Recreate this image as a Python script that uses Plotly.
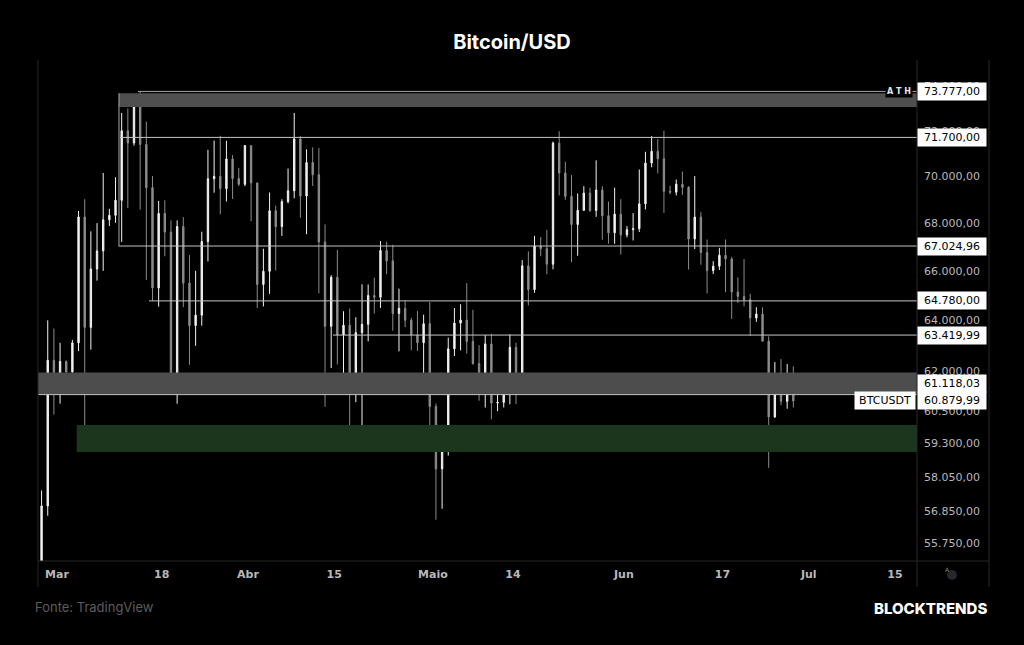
import math
import pandas as pd
import plotly.graph_objects as go

# ---------------- data (daily BTC/USDT) ----------------
first_day = "2024-02-27"
open_ = [54476, 57037, 62432,
         61130, 62387, 61987, 63113, 68245, 63724, 66075, 66823, 68124, 68313,
         68955, 72000, 71452, 73072, 71388, 69499, 65300, 68393, 67609, 61937,
         67840, 65501, 63797, 64209, 67211, 69880, 69988, 69455, 70744, 69892, 69645,
         71333, 69702, 65446, 65980, 68508, 67838, 68897, 69362, 71631, 69139,
         70587, 70060, 67195, 63765, 65739, 63426, 63811, 61276, 63512, 63843,
         64994, 64927, 66838, 66408, 64276, 64482, 64011, 63419, 63118, 63866,
         60672, 58364, 59060, 62882, 63892, 64012, 63165, 62313, 61193, 63074,
         60799, 60825, 61483, 62940, 61577, 66206, 65235, 67024, 66915, 66274,
         71446, 70136, 69122, 67929, 68526, 69265, 68518, 69394, 68296, 67578, 68364,
         67491, 67706, 67751, 68804, 70567, 71082, 70757, 69342, 69305, 69647,
         69512, 67321, 68241, 66756, 66011, 66191, 66639, 66490, 65140, 64960,
         64828, 64096, 64252, 63180, 60277, 61806, 60864, 61707]
high = [57588, 64000, 63676,
        63114, 62433, 63231, 68499, 69000, 67637, 67985, 70136, 68592, 69950,
        72800, 73000, 73650, 73777, 72400, 70000, 68930, 68956, 68100, 68100,
        68240, 66650, 65999, 67622, 71150, 71561, 71769, 71552, 70916, 70357, 71366,
        71338, 69708, 66914, 69291, 68725, 69000, 70327, 72797, 71758, 71172,
        71256, 71227, 67931, 65823, 66867, 64365, 64476, 64125, 65450, 65442,
        65723, 67233, 67199, 67075, 65275, 64797, 64100, 64370, 64228, 64734,
        60780, 59602, 63320, 64494, 64646, 65500, 64422, 63020, 63420, 63469,
        61490, 61818, 63450, 63118, 66444, 66800, 67451, 67400, 67700, 71515,
        71979, 70625, 70041, 69250, 69562, 69500, 70687, 69562, 68900, 69500, 69000,
        67860, 68409, 70288, 71063, 71758, 71625, 71997, 69582, 69850, 70195,
        69560, 69999, 68449, 67294, 66400, 66948, 67298, 66578, 65730, 66482,
        65066, 64525, 64521, 63369, 62370, 62480, 62293, 62200]
low = [54450, 56691, 60364,
       60777, 61561, 61321, 62787, 59005, 62848, 65600, 66000, 67863, 68000,
       67194, 68620, 71333, 68555, 65630, 64780, 64550, 66600, 61555, 60775,
       64529, 62260, 63000, 63790, 66385, 69280, 68359, 68903, 69009, 69568, 69562,
       68062, 64493, 64559, 65064, 66011, 67447, 68824, 69040, 68210, 67518,
       69571, 65086, 60660, 62134, 62274, 61600, 59768, 60833, 59600, 63172,
       64277, 64500, 65864, 63589, 62783, 63735, 62824, 62793, 61765, 59191,
       56552, 56937, 58849, 62599, 62822, 62700, 62261, 60888, 60630, 60187,
       60492, 60632, 60750, 60761, 61330, 64600, 65106, 66600, 65857, 66060,
       69162, 68977, 66356, 66622, 68515, 68456, 68250, 67280, 67125, 67118, 66670,
       67387, 67257, 67612, 68564, 70383, 70119, 68420, 69208, 69160, 69180,
       66051, 66900, 66251, 65078, 65870, 66034, 65130, 64060, 64693, 64559,
       63379, 63943, 63178, 58402, 60240, 60720, 60585, 60630]
close = [57037, 62432, 61130,
         62387, 61987, 63113, 68245, 63724, 66075, 66823, 68124, 68313, 68955,
         72000, 71452, 73072, 71388, 69499, 65300, 68393, 67609, 61937, 67840,
         65501, 63797, 64209, 67211, 69880, 69988, 69455, 70744, 69892, 69645, 71333,
         69702, 65446, 65980, 68508, 67838, 68897, 69362, 71631, 69139, 70587,
         70060, 67195, 63765, 65739, 63426, 63811, 61276, 63512, 63843, 64994,
         64927, 66838, 66408, 64276, 64482, 64011, 63419, 63118, 63866, 60672,
         58364, 59060, 62882, 63892, 64012, 63165, 62313, 61193, 63074, 60799,
         60825, 61483, 62940, 61577, 66206, 65235, 67024, 66915, 66274, 71446,
         70136, 69122, 67929, 68526, 69265, 68518, 69394, 68296, 67578, 68364, 67491,
         67706, 67751, 68804, 70567, 71082, 70757, 69342, 69305, 69647, 69512,
         67321, 68241, 66756, 66011, 66191, 66639, 66490, 65140, 64960, 64828,
         64096, 64252, 63180, 60277, 61806, 60864, 61707, 60880]

# price levels drawn on the chart
ath_level = 73777.00
level_lines = [71700.00, 67024.96, 64780.00, 63419.99]
level_starts = ["2024-03-11 05:20", "2024-03-11 00:20", "2024-03-15 22:20", "2024-04-14 19:00"]
ath_start = "2024-03-14 03:30"
top_zone = (73070, 73690)
top_zone_start = "2024-03-11 01:30"
grey_zone = (61118.03, 61960)
green_zone = (58980, 59980)
green_zone_start = "2024-03-04 04:50"
last_price = 60879.99

# axis ticks
y_ticks = [55750, 56850, 58050, 59300, 60500, 62000, 64000, 66000, 68000, 70000, 72000, 74000]
y_ticktext = ["55.750,00", "56.850,00", "58.050,00", "59.300,00", "60.500,00", "62.000,00",
              "64.000,00", "66.000,00", "68.000,00", "70.000,00", "72.000,00", "74.000,00"]
x_ticks = ["2024-03-01", "2024-03-18", "2024-04-01", "2024-04-15", "2024-05-01",
           "2024-05-14", "2024-06-01", "2024-06-17", "2024-07-01", "2024-07-15"]
x_ticktext = ["Mar", "18", "Abr", "15", "Maio", "14", "Jun", "17", "Jul", "15"]

def fmt_br(v):
    s = f"{v:,.2f}"
    return s.replace(",", "X").replace(".", ",").replace("X", ".")

# ---------------- figure ----------------
dates = pd.date_range(first_day, periods=len(close), freq="D") + pd.Timedelta(hours=12)
x_far_left = "2024-02-20"
x_far_right = "2024-07-30"

W, H = 1024, 645
ML, MR, MT, MB = 38, 107, 60, 84
PW, PH = W - ML - MR, H - MT - MB

def px_x(px):
    return (px - ML) / PW

def px_y(py):
    return (H - MB - py) / PH

fig = go.Figure()

def add_zone(x0, lo, hi, color):
    fig.add_trace(go.Scatter(x=[x0, x_far_right, x_far_right, x0, x0],
                             y=[lo, lo, hi, hi, lo], mode="lines", fill="toself",
                             fillcolor=color, line=dict(width=0), hoverinfo="skip",
                             showlegend=False))

def add_line(xs, ys, color="#c4c4c4"):
    fig.add_trace(go.Scatter(x=xs, y=ys, mode="lines", line=dict(color=color, width=1),
                             hoverinfo="skip", showlegend=False))

add_zone(top_zone_start, top_zone[0], top_zone[1], "#4f4f4f")
add_zone(x_far_left, grey_zone[0], grey_zone[1], "#4d4d4d")
add_zone(green_zone_start, green_zone[0], green_zone[1], "#1b361d")

add_line([ath_start, x_far_right], [ath_level, ath_level], "#a8a8a8")
for v, s in zip(level_lines, level_starts):
    add_line([s, x_far_right], [v, v])
add_line([x_far_left, x_far_right], [grey_zone[0], grey_zone[0]])
add_line([top_zone_start, top_zone_start], [level_lines[1], top_zone[1]], "#a8a8a8")

fig.add_trace(go.Candlestick(
    x=dates, open=open_, high=high, low=low, close=close,
    increasing=dict(line=dict(color="#f2f2f2", width=1), fillcolor="#f2f2f2"),
    decreasing=dict(line=dict(color="#8c8c8c", width=1), fillcolor="#8c8c8c"),
    whiskerwidth=0, hoverinfo="skip", showlegend=False))

axis_font = dict(family="DejaVu Sans", size=11, color="#b8b8b8")

fig.update_layout(
    width=W, height=H,
    margin=dict(l=ML, r=MR, t=MT, b=MB, pad=0),
    paper_bgcolor="#000000", plot_bgcolor="#000000",
    boxgap=0.68,
    showlegend=False,
    title=dict(text="<b>Bitcoin/USD</b>", x=0.5, xref="container", xanchor="center",
               y=1 - 42 / H, yref="container", yanchor="middle",
               font=dict(family="Inter", size=20, color="#ffffff")),
    xaxis=dict(type="date", range=["2024-02-26 22:05", "2024-07-18 13:40"],
               rangeslider=dict(visible=False), showgrid=False, zeroline=False,
               tickmode="array", tickvals=x_ticks, ticktext=x_ticktext,
               ticks="", ticklabelstandoff=5,
               tickfont=dict(family="DejaVu Sans", size=11, color="#b8b8b8", weight="bold"),
               showline=False),
    yaxis=dict(type="log", side="right",
               range=[math.log10(55120), math.log10(75230)],
               showgrid=False, zeroline=False, tickmode="array",
               tickvals=y_ticks, ticktext=y_ticktext, ticks="",
               ticklabelstandoff=6, tickfont=axis_font, showline=False),
)

# frame lines
frame = "#262626"
ybot = px_y(587)
shapes = [
    dict(type="line", xref="paper", yref="paper", x0=0, x1=px_x(989), y0=0, y1=0),
    dict(type="line", xref="paper", yref="paper", x0=0, x1=0, y0=ybot, y1=1),
    dict(type="line", xref="paper", yref="paper", x0=1, x1=1, y0=ybot, y1=1),
    dict(type="line", xref="paper", yref="paper", x0=px_x(989), x1=px_x(989), y0=ybot, y1=1),
]
for s in shapes:
    s["line"] = dict(color=frame, width=1)
    fig.add_shape(**s)
fig.add_shape(type="circle", xref="paper", yref="paper", x0=px_x(947), x1=px_x(957),
              y0=px_y(580), y1=px_y(570), fillcolor="#26262c", line=dict(width=0))
fig.add_annotation(text="A", xref="paper", yref="paper", x=px_x(952), y=px_y(575),
                   showarrow=False, font=dict(family="DejaVu Sans", size=6, color="#8a8a8a"))

# price labels on the scale
label_font = dict(family="DejaVu Sans", size=11, color="#000000")
labels = [(ath_level, 0)] + [(v, 0) for v in level_lines] + [(grey_zone[0], 11), (last_price, 0)]
for v, shift in labels:
    fig.add_annotation(text=fmt_br(v), xref="paper", yref="y", x=1, y=math.log10(v),
                       xanchor="left", yanchor="middle", yshift=shift, showarrow=False,
                       bgcolor="#ffffff", borderpad=2, width=64, height=13, align="center",
                       font=label_font)
fig.add_annotation(text="BTCUSDT", xref="paper", yref="y", x=px_x(916), y=math.log10(last_price),
                   xanchor="right", yanchor="middle", showarrow=False, bgcolor="#ffffff",
                   borderpad=2, width=56, height=13, align="center", font=label_font)
fig.add_annotation(text="A T H", xref="paper", yref="y", x=px_x(913), y=math.log10(ath_level),
                   xanchor="right", yanchor="middle", showarrow=False, bgcolor="#000000",
                   borderpad=1, font=dict(family="DejaVu Sans", size=8, color="#e6e6e6", weight="bold"))

# footer
fig.add_annotation(text="Fonte: TradingView", xref="paper", yref="paper", x=px_x(33), y=px_y(607),
                   xanchor="left", yanchor="middle", showarrow=False,
                   font=dict(family="Inter", size=13, color="#5c5c5c"))
fig.add_annotation(text="BLOCKTRENDS", xref="paper", yref="paper", x=px_x(989), y=px_y(608),
                   xanchor="right", yanchor="middle", showarrow=False,
                   font=dict(family="Inter", size=15, color="#ffffff", weight=800))

fig.write_html("out.html")
